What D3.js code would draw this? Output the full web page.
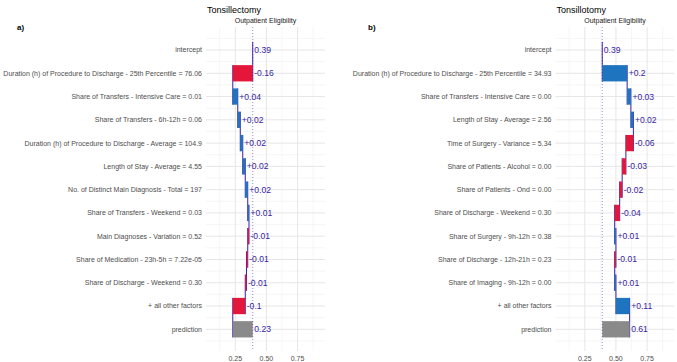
<!DOCTYPE html>
<html>
<head>
<meta charset="utf-8">
<script src="https://cdn.jsdelivr.net/npm/d3@7"></script>
<style>
  body { margin: 0; background: #fff; }
  svg text { font-family: "Liberation Sans", Arial, sans-serif; }
</style>
</head>
<body>
<div id="chart"></div>
<script>
// Panel a) Tonsillectomy
const featuresA = [
    'intercept',
    'Duration (h) of Procedure to Discharge - 25th Percentile = 76.06',
    'Share of Transfers - Intensive Care = 0.01',
    'Share of Transfers - 6h-12h = 0.06',
    'Duration (h) of Procedure to Discharge - Average = 104.9',
    'Length of Stay - Average = 4.55',
    'No. of Distinct Main Diagnosis - Total = 197',
    'Share of Transfers - Weekend = 0.03',
    'Main Diagnoses - Variation = 0.52',
    'Share of Medication - 23h-5h = 7.22e-05',
    'Share of Discharge - Weekend = 0.30',
    '+ all other factors',
    'prediction'
];
// intercept, contributions..., prediction
const valuesA = [0.39, -0.16, 0.04, 0.02, 0.02, 0.02, 0.02, 0.01, -0.01, -0.01, -0.01, -0.10, 0.23];
const textA = ['0.39', '-0.16', '+0.04', '+0.02', '+0.02', '+0.02', '+0.02', '+0.01', '-0.01', '-0.01', '-0.01', '-0.1', '0.23'];

// Panel b) Tonsillotomy
const featuresB = [
    'intercept',
    'Duration (h) of Procedure to Discharge - 25th Percentile = 34.93',
    'Share of Transfers - Intensive Care = 0.00',
    'Length of Stay - Average = 2.56',
    'Time of Surgery - Variance = 5.34',
    'Share of Patients - Alcohol = 0.00',
    'Share of Patients - Ond = 0.00',
    'Share of Discharge - Weekend = 0.30',
    'Share of Surgery - 9h-12h = 0.38',
    'Share of Discharge - 12h-21h = 0.23',
    'Share of Imaging - 9h-12h = 0.00',
    '+ all other factors',
    'prediction'
];
const valuesB = [0.39, 0.20, 0.03, 0.02, -0.06, -0.03, -0.02, -0.04, 0.01, -0.01, 0.01, 0.11, 0.61];
const textB = ['0.39', '+0.2', '+0.03', '+0.02', '-0.06', '-0.03', '-0.02', '-0.04', '+0.01', '-0.01', '+0.01', '+0.11', '0.61'];

const xTicks = [0.25, 0.5, 0.75];
const xMinor = [0.125, 0.375, 0.625, 0.875];

// Colours
const pos_color = '#1f74c0';
const neg_color = '#e4173a';
const pred_color = '#8a8a8a';
const line_color = '#371ea3';

const width = 677;
const height = 362;

const svg = d3.select('#chart').append('svg')
    .attr('width', width)
    .attr('height', height);

// Draw one waterfall panel
function drawPanel(opts) {
    const { features, values, texts, left, right, title, tag, tagX } = opts;
    const top = 27, bottom = 351;

    const x = d3.scaleLinear().domain([0.015, 0.97]).range([left, right]);
    const y = d3.scalePoint().domain(features).range([50, 329.3]);
    const step = y.step();
    const bh = step * 0.7;

    // cumulative positions
    const rows = [];
    let cum = values[0];
    features.forEach((f, i) => {
        if (i === 0) {
            rows.push({ f, prev: cum, cum: cum, type: 'intercept', text: texts[i] });
        } else if (i === features.length - 1) {
            rows.push({ f, prev: values[0], cum: values[i], type: 'prediction', text: texts[i] });
        } else {
            const prev = cum;
            cum = cum + values[i];
            rows.push({ f, prev, cum, type: values[i] >= 0 ? 'pos' : 'neg', text: texts[i] });
        }
    });

    const g = svg.append('g');

    // minor grid
    const minorY = [y(features[0]) - step / 2].concat(features.map(f => y(f) + step / 2));
    g.selectAll('.minor-h').data(minorY).enter().append('line')
        .attr('x1', left).attr('x2', right)
        .attr('y1', d => d).attr('y2', d => d)
        .attr('stroke', '#f0f0f0').attr('stroke-width', 0.6);
    g.selectAll('.minor-v').data(xMinor).enter().append('line')
        .attr('x1', d => x(d)).attr('x2', d => x(d))
        .attr('y1', top).attr('y2', bottom)
        .attr('stroke', '#f0f0f0').attr('stroke-width', 0.6);

    // major grid
    g.selectAll('.major-h').data(features).enter().append('line')
        .attr('x1', left).attr('x2', right)
        .attr('y1', d => y(d)).attr('y2', d => y(d))
        .attr('stroke', '#e6e6e6').attr('stroke-width', 1);
    g.selectAll('.major-v').data(xTicks).enter().append('line')
        .attr('x1', d => x(d)).attr('x2', d => x(d))
        .attr('y1', top).attr('y2', bottom)
        .attr('stroke', '#e6e6e6').attr('stroke-width', 1);

    // connectors between bars
    g.selectAll('.connector').data(rows.slice(0, -1)).enter().append('line')
        .attr('x1', d => x(d.cum)).attr('x2', d => x(d.cum))
        .attr('y1', d => y(d.f) - bh / 2)
        .attr('y2', (d, i) => y(features[i + 1]) + bh / 2)
        .attr('stroke', line_color).attr('stroke-width', 1);

    // bars
    g.selectAll('.bar').data(rows).enter().append('rect')
        .attr('x', d => x(Math.min(d.prev, d.cum)))
        .attr('y', d => y(d.f) - bh / 2)
        .attr('width', d => Math.abs(x(d.cum) - x(d.prev)))
        .attr('height', bh)
        .attr('fill', d => d.type === 'pos' ? pos_color : d.type === 'neg' ? neg_color : pred_color);

    // dotted intercept line
    g.append('line')
        .attr('x1', x(values[0])).attr('x2', x(values[0]))
        .attr('y1', top).attr('y2', bottom)
        .attr('stroke', line_color).attr('stroke-opacity', 0.5)
        .attr('stroke-width', 1).attr('stroke-dasharray', '1,2');

    // value labels
    g.selectAll('.value').data(rows).enter().append('text')
        .attr('x', d => x(Math.max(d.prev, d.cum)) + 1.5)
        .attr('y', d => y(d.f))
        .attr('dy', '0.35em')
        .attr('font-size', '8.6px')
        .attr('fill', line_color)
        .text(d => d.text);

    // y axis labels
    g.selectAll('.ylab').data(features).enter().append('text')
        .attr('x', left - 4)
        .attr('y', d => y(d))
        .attr('dy', '0.35em')
        .attr('text-anchor', 'end')
        .attr('font-size', '7px')
        .attr('fill', '#4d4d4d')
        .text(d => d);

    // x axis labels
    g.selectAll('.xlab').data(xTicks).enter().append('text')
        .attr('x', d => x(d))
        .attr('y', 361)
        .attr('text-anchor', 'middle')
        .attr('font-size', '7px')
        .attr('fill', '#4d4d4d')
        .text(d => d3.format('.2f')(d));

    // strip label
    g.append('text')
        .attr('x', (left + right) / 2)
        .attr('y', 22.5)
        .attr('text-anchor', 'middle')
        .attr('font-size', '7px')
        .attr('fill', '#1a1a1a')
        .text('Outpatient Eligibility');

    // title
    g.append('text')
        .attr('x', left + 1)
        .attr('y', 12.5)
        .attr('font-size', '9px')
        .attr('fill', '#000')
        .text(title);

    // panel tag
    g.append('text')
        .attr('x', tagX)
        .attr('y', 30)
        .attr('font-size', '8px')
        .attr('font-weight', 'bold')
        .attr('fill', '#000')
        .text(tag);
}

drawPanel({ features: featuresA, values: valuesA, texts: textA, left: 206, right: 325, title: 'Tonsillectomy', tag: 'a)', tagX: 17 });
drawPanel({ features: featuresB, values: valuesB, texts: textB, left: 555.5, right: 674.5, title: 'Tonsillotomy', tag: 'b)', tagX: 368 });
</script>
</body>
</html>
